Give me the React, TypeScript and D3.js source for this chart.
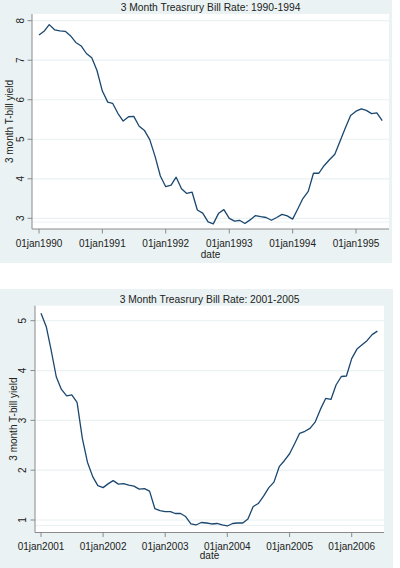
import React, { useRef, useEffect } from "react";
import * as d3 from "d3";

// Monthly 3-month T-bill rates (%), Jan 1990 - Jun 1995
const rates1990 = [
  7.64, 7.74, 7.9, 7.77, 7.74, 7.73, 7.62, 7.45, 7.36, 7.17, 7.06, 6.74,
  6.22, 5.94, 5.91, 5.65, 5.46, 5.57, 5.58, 5.33, 5.22, 4.99, 4.56, 4.07,
  3.8, 3.84, 4.04, 3.75, 3.63, 3.66, 3.21, 3.13, 2.91, 2.86, 3.13, 3.22,
  3.0, 2.93, 2.95, 2.87, 2.96, 3.07, 3.04, 3.02, 2.95, 3.02, 3.1, 3.06,
  2.98, 3.25, 3.5, 3.68, 4.14, 4.14, 4.33, 4.48, 4.62, 4.95, 5.29, 5.6,
  5.71, 5.77, 5.73, 5.65, 5.67, 5.47,
];

// Monthly 3-month T-bill rates (%), Jan 2001 - Jun 2006
const rates2001 = [
  5.15, 4.88, 4.42, 3.87, 3.62, 3.49, 3.51, 3.36, 2.64, 2.16, 1.87, 1.69,
  1.65, 1.73, 1.79, 1.72, 1.73, 1.7, 1.68, 1.62, 1.63, 1.58, 1.23, 1.19,
  1.17, 1.17, 1.13, 1.13, 1.07, 0.92, 0.9, 0.95, 0.94, 0.92, 0.93, 0.9,
  0.88, 0.93, 0.94, 0.94, 1.02, 1.27, 1.33, 1.48, 1.65, 1.76, 2.07, 2.19,
  2.33, 2.54, 2.74, 2.78, 2.84, 2.97, 3.22, 3.44, 3.42, 3.71, 3.88, 3.89,
  4.24, 4.43, 4.51, 4.6, 4.72, 4.79,
];

const yTicks1990 = [3, 4, 5, 6, 7, 8];
const yTicks2001 = [1, 2, 3, 4, 5];
const xYears1990 = [1990, 1991, 1992, 1993, 1994, 1995];
const xYears2001 = [2001, 2002, 2003, 2004, 2005, 2006];

const W = 400;
const H = 568;
const BG = "#eaf2f3";
const LINE = "#1a476f";
const AXIS = "#8a8a8a";
const FONT = "'Liberation Sans', Arial, sans-serif";

const panels = [
  {
    title: "3 Month Treasrury Bill Rate: 1990-1994",
    values: rates1990,
    startYear: 1990,
    yTicks: yTicks1990,
    xYears: xYears1990,
    outer: { x0: 0, y0: 0, x1: 392, y1: 263 },
    plot: { l: 32, t: 14, r: 389, b: 229 },
    xRange: [39, 356],
    yRange: [218.3, 20.7],
    titleY: 10.5,
    tickLabelY: 246.5,
    dateY: 258,
    yTitleX: 9.5,
    yTickX: 20.7,
  },
  {
    title: "3 Month Treasrury Bill Rate: 2001-2005",
    values: rates2001,
    startYear: 2001,
    yTicks: yTicks2001,
    xYears: xYears2001,
    outer: { x0: 0, y0: 289, x1: 393, y1: 568 },
    plot: { l: 35, t: 305.7, r: 384, b: 532.5 },
    xRange: [41, 351.7],
    yRange: [520, 320.7],
    titleY: 302.5,
    tickLabelY: 549.5,
    dateY: 559,
    yTitleX: 13,
    yTickX: 22,
  },
];

const fmtDate = (d) => d3.timeFormat("%d%b%Y")(d).toLowerCase();

const App = () => {
  const ref = useRef(null);

  useEffect(() => {
    const svg = d3.select(ref.current);
    svg.selectChildren().remove();

    panels.forEach((p) => {
      const g = svg.append("g");
      const { l, t, r, b } = p.plot;

      // Fondo del gráfico y región de trazado
      g.append("rect")
        .attr("x", p.outer.x0)
        .attr("y", p.outer.y0)
        .attr("width", p.outer.x1 - p.outer.x0)
        .attr("height", p.outer.y1 - p.outer.y0)
        .attr("fill", BG);
      g.append("rect")
        .attr("x", l)
        .attr("y", t)
        .attr("width", r - l)
        .attr("height", b - t)
        .attr("fill", "#fff");

      const firstYear = p.xYears[0];
      const lastYear = p.xYears[p.xYears.length - 1];
      const x = d3
        .scaleTime()
        .domain([new Date(firstYear, 0, 1), new Date(lastYear, 0, 1)])
        .range(p.xRange);
      const y = d3
        .scaleLinear()
        .domain([p.yTicks[0], p.yTicks[p.yTicks.length - 1]])
        .range(p.yRange);

      const points = p.values.map((v, i) => ({
        date: new Date(p.startYear, i, 1),
        value: v,
      }));

      // Líneas de rejilla
      g.selectAll(".grid")
        .data(p.yTicks)
        .enter()
        .append("line")
        .attr("x1", l)
        .attr("x2", r)
        .attr("y1", (d) => y(d))
        .attr("y2", (d) => y(d))
        .attr("stroke", BG)
        .attr("stroke-width", 1.2);
      g.append("line")
        .attr("x1", l)
        .attr("x2", r)
        .attr("y1", b - 7)
        .attr("y2", b - 7)
        .attr("stroke", BG)
        .attr("stroke-width", 1);

      // Serie
      const line = d3
        .line()
        .x((d) => x(d.date))
        .y((d) => y(d.value));
      g.append("path")
        .datum(points)
        .attr("d", line)
        .attr("fill", "none")
        .attr("stroke", LINE)
        .attr("stroke-width", 1.3)
        .attr("stroke-linejoin", "round");

      // Ejes
      g.append("line")
        .attr("x1", l)
        .attr("x2", l)
        .attr("y1", t)
        .attr("y2", b)
        .attr("stroke", AXIS);
      g.append("line")
        .attr("x1", l)
        .attr("x2", r)
        .attr("y1", b)
        .attr("y2", b)
        .attr("stroke", AXIS);

      // Marcas y etiquetas del eje Y
      g.selectAll(".ytick")
        .data(p.yTicks)
        .enter()
        .append("line")
        .attr("x1", l - 4.5)
        .attr("x2", l)
        .attr("y1", (d) => y(d))
        .attr("y2", (d) => y(d))
        .attr("stroke", AXIS);
      g.selectAll(".ylab")
        .data(p.yTicks)
        .enter()
        .append("text")
        .attr(
          "transform",
          (d) => `translate(${p.yTickX + 3.6}, ${y(d)}) rotate(-90)`
        )
        .attr("text-anchor", "middle")
        .attr("font-family", FONT)
        .attr("font-size", 10)
        .attr("fill", "#222")
        .text((d) => d);

      // Marcas y etiquetas del eje X
      const xTicks = p.xYears.map((yr) => new Date(yr, 0, 1));
      g.selectAll(".xtick")
        .data(xTicks)
        .enter()
        .append("line")
        .attr("x1", (d) => x(d))
        .attr("x2", (d) => x(d))
        .attr("y1", b)
        .attr("y2", b + 4.5)
        .attr("stroke", AXIS);
      g.selectAll(".xlab")
        .data(xTicks)
        .enter()
        .append("text")
        .attr("x", (d) => x(d))
        .attr("y", p.tickLabelY)
        .attr("text-anchor", "middle")
        .attr("font-family", FONT)
        .attr("font-size", 10)
        .attr("fill", "#222")
        .text(fmtDate);

      // Títulos
      g.append("text")
        .attr("x", (l + r) / 2)
        .attr("y", p.titleY)
        .attr("text-anchor", "middle")
        .attr("font-family", FONT)
        .attr("font-size", 10.3)
        .attr("fill", "#222")
        .text(p.title);
      g.append("text")
        .attr("x", (l + r) / 2)
        .attr("y", p.dateY)
        .attr("text-anchor", "middle")
        .attr("font-family", FONT)
        .attr("font-size", 10)
        .attr("fill", "#222")
        .text("date");
      g.append("text")
        .attr(
          "transform",
          `translate(${p.yTitleX + 3.6}, ${(t + b) / 2}) rotate(-90)`
        )
        .attr("text-anchor", "middle")
        .attr("font-family", FONT)
        .attr("font-size", 10)
        .attr("fill", "#222")
        .text("3 month T-bill yield");
    });
  }, []);

  return (
    <svg
      ref={ref}
      width={W}
      height={H}
      style={{ position: "absolute", left: 0, top: 0, background: "#fff" }}
    />
  );
};

export default App;
